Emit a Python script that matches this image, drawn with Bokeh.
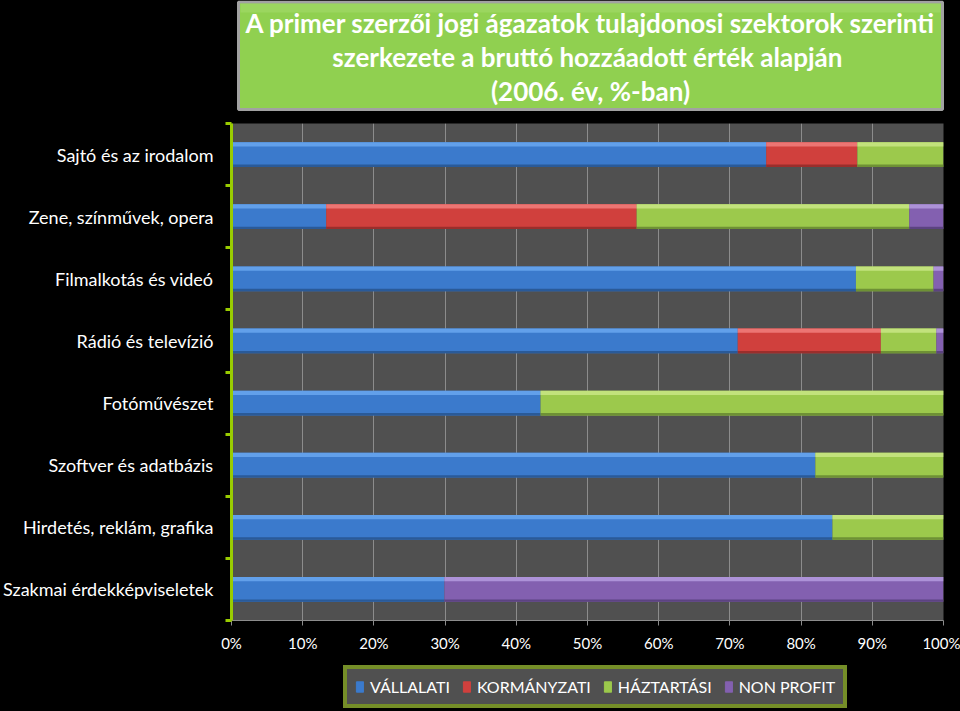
from bokeh.plotting import figure
from bokeh.layouts import column
from bokeh.models import (Range1d, FixedTicker, PrintfTickFormatter, Legend,
                          LegendItem, ColumnDataSource)
from bokeh.core.properties import value
from bokeh.embed import file_html
from bokeh.resources import INLINE

categories = ["Sajtó és az irodalom", "Zene, színművek, opera", "Filmalkotás és videó",
              "Rádió és televízió", "Fotóművészet", "Szoftver és adatbázis",
              "Hirdetés, reklám, grafika", "Szakmai érdekképviseletek"]
vallalati = [75.1, 13.3, 87.7, 71.1, 43.4, 82.0, 84.4, 29.9]
kormanyzati = [12.8, 43.6, 0.0, 20.1, 0.0, 0.0, 0.0, 0.0]
haztartasi = [12.1, 38.3, 10.9, 7.8, 56.6, 18.0, 15.6, 0.0]
nonprofit = [0.0, 4.8, 1.4, 1.0, 0.0, 0.0, 0.0, 70.1]
series_names = ["VÁLLALATI", "KORMÁNYZATI", "HÁZTARTÁSI", "NON PROFIT"]
x_ticks = [0, 10, 20, 30, 40, 50, 60, 70, 80, 90, 100]
title_lines = ["A primer szerzői jogi ágazatok tulajdonosi szektorok szerinti",
               "szerkezete  a bruttó hozzáadott érték alapján",
               "(2006. év, %-ban)"]

colors = ["#3b7acc", "#d0403d", "#9cc94c", "#8360b0"]
light = ["#62a0ea", "#ec7573", "#c2e27c", "#ad92d8"]
dark = ["#2a5a98", "#9a2e2c", "#6e9135", "#5c4381"]
FONT = "Lato"
W = 960

# ---------------- title strip ----------------
TH = 115
tf = figure(width=W, height=TH, output_backend="svg", toolbar_location=None,
            x_range=Range1d(0, W), y_range=Range1d(TH, 0),
            x_axis_type=None, y_axis_type=None, min_border=0,
            background_fill_color="black", border_fill_color="black",
            outline_line_color=None)
tf.frame_align = False
tf.quad(left=[238], right=[942], top=[1.5], bottom=[109],
        fill_color="#90d050", line_color="#a2a2a2", line_width=3)
tf.quad(left=[240], right=[940], top=[3], bottom=[12],
        fill_color="#a6dc6e", fill_alpha=0.5, line_color=None)
tf.text(x=[590] * 3, y=[22, 56, 90], text=title_lines,
        text_align="center", text_baseline="middle",
        text_font=value(FONT), text_font_style="bold", text_font_size="26px",
        text_color="white")

# ---------------- main chart ----------------
n = len(categories)
pos = [i + 0.5 for i in range(n)]
keys = ["v", "k", "h", "n"]
source = ColumnDataSource(dict(
    y=pos,
    y_hi=[p_ - 0.165 for p_ in pos],
    y_lo=[p_ + 0.18 for p_ in pos],
    v=vallalati, k=kormanyzati, h=haztartasi, n=nonprofit,
))

MH = 545
p = figure(width=W, height=MH, output_backend="svg", toolbar_location=None,
           x_range=Range1d(0, 100), y_range=Range1d(n, 0),
           background_fill_color="#505050", border_fill_color="black",
           outline_line_color=None,
           min_border_left=231, min_border_right=17,
           min_border_top=8, min_border_bottom=40)
p.frame_align = False

main = p.hbar_stack(keys, y="y", height=0.4, source=source, color=colors,
                    line_color=None)
p.hbar_stack(keys, y="y_hi", height=0.07, source=source, color=light,
             line_color=None)
p.hbar_stack(keys, y="y_lo", height=0.04, source=source, color=dark,
             line_color=None)

ya = p.yaxis[0]
ya.ticker = FixedTicker(ticks=pos, minor_ticks=list(range(n + 1)))
ya.major_label_overrides = {pp: c for pp, c in zip(pos, categories)}
ya.axis_line_color = "#99cc00"
ya.axis_line_width = 3
ya.major_tick_line_color = None
ya.minor_tick_line_color = "#99cc00"
ya.minor_tick_line_width = 3
ya.minor_tick_out = 6
ya.minor_tick_in = 0
ya.major_label_standoff = 12
ya.major_label_text_color = "white"
ya.major_label_text_font = FONT
ya.major_label_text_font_size = "18px"

xa = p.xaxis[0]
xa.ticker = FixedTicker(ticks=x_ticks)
xa.formatter = PrintfTickFormatter(format="%d%%")
xa.axis_line_color = "#8c8c8c"
xa.major_tick_line_color = "#8c8c8c"
xa.major_tick_out = 5
xa.major_tick_in = 0
xa.major_label_standoff = 8
xa.major_label_text_color = "white"
xa.major_label_text_font = FONT
xa.major_label_text_font_size = "15px"

p.xgrid.grid_line_color = "#8c8c8c"
p.ygrid.grid_line_color = None

# ---------------- legend strip ----------------
LH = 711 - TH - MH
lf = figure(width=W, height=LH, output_backend="svg", toolbar_location=None,
            x_range=Range1d(0, 1), y_range=Range1d(0, 1),
            x_axis_type=None, y_axis_type=None, min_border=0,
            background_fill_color="black", border_fill_color="black",
            outline_line_color=None)
lf.frame_align = False
# swatch renderers for the legend only (their single mark lies outside the view)
swatches = [lf.hbar(y=[-5], left=[0], right=[1], height=0.4, color=c) for c in colors]
legend = Legend(items=[LegendItem(label=nm, renderers=[r]) for nm, r in zip(series_names, swatches)],
                orientation="horizontal", location=(343, 3),
                background_fill_color="#505050", background_fill_alpha=1,
                border_line_color="#99cc00", border_line_width=4,
                label_text_color="white", label_text_font=FONT,
                label_text_font_size="16px", glyph_width=9, glyph_height=13,
                label_standoff=6, spacing=12, padding=8, margin=0)
lf.add_layout(legend, "center")

layout = column(tf, p, lf, spacing=0, styles={"background-color": "black"})
open("out.html", "w").write(file_html(layout, INLINE))
